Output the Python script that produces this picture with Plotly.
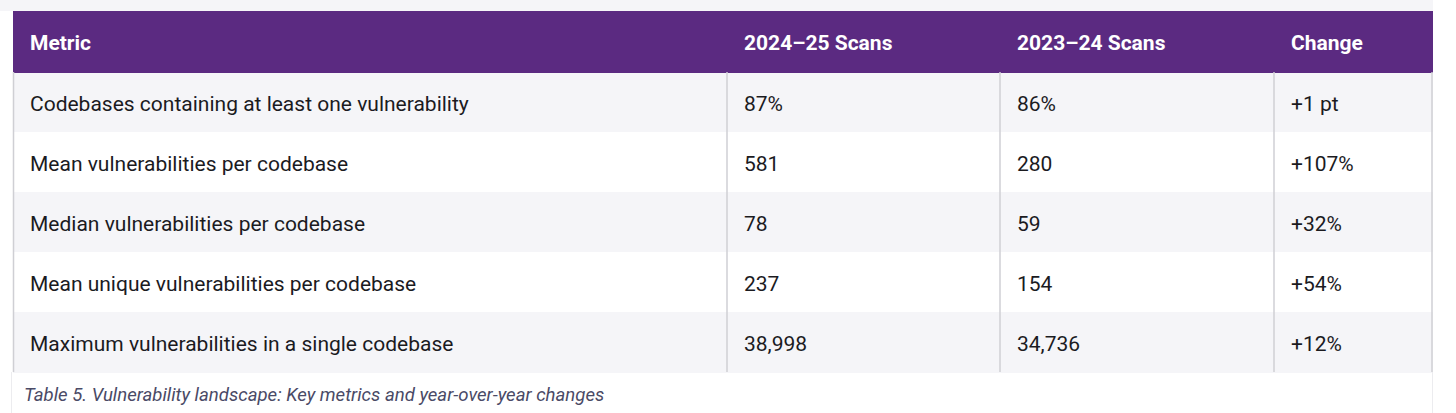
import plotly.graph_objects as go

W, H = 1456, 413

headers = ["Metric", "2024\u201325 Scans", "2023\u201324 Scans", "Change"]
metrics = [
    "Codebases containing at least one vulnerability",
    "Mean vulnerabilities per codebase",
    "Median vulnerabilities per codebase",
    "Mean unique vulnerabilities per codebase",
    "Maximum vulnerabilities in a single codebase",
]
scans_2024_25 = ["87%", "581", "78", "237", "38,998"]
scans_2023_24 = ["86%", "280", "59", "154", "34,736"]
change = ["+1 pt", "+107%", "+32%", "+54%", "+12%"]
caption = "Table 5. Vulnerability landscape: Key metrics and year-over-year changes"

PURPLE = "#5b2a81"
ROW_A = "#f5f5f8"
ROW_B = "#ffffff"
GRID = "#cfcfd4"
TEXT = "#1b1b1f"
CLEAR = "rgba(0,0,0,0)"

# pixel layout
x0, x1 = 13, 1432
col_px = [714, 273, 274, 158]
top, header_h, row_h = 11, 61, 60
n = len(metrics)
bottom = top + header_h + n * row_h
text_dx, text_dy = 9, 12      # inner padding of the text layer
text_header_h = 64
FS = 21

def px(x):
    return x / W

def py(y):
    return 1 - y / H

row_colors = [ROW_A if i % 2 == 0 else ROW_B for i in range(n)]
fill2d = [row_colors for _ in headers]
columns = [metrics, scans_2024_25, scans_2023_24, change]

# layer 1: cell backgrounds
fill_table = go.Table(
    domain=dict(x=[px(x0), px(x1)], y=[py(bottom + 2), py(top)]),
    columnwidth=col_px,
    header=dict(values=["" for _ in headers], fill_color=PURPLE,
                line=dict(color=PURPLE, width=1), height=header_h),
    cells=dict(values=[["" for _ in col] for col in columns],
               fill_color=fill2d, line=dict(color=fill2d, width=1),
               height=row_h),
)

# layer 2: text
text_table = go.Table(
    domain=dict(x=[px(x0 + text_dx), px(x1 + text_dx)],
                y=[py(bottom + text_dy + 10), py(top + text_dy)]),
    columnwidth=col_px,
    header=dict(
        values=[f"<b>{h}</b>" for h in headers],
        fill_color=CLEAR, line=dict(color=CLEAR, width=0),
        font=dict(family="Roboto", size=FS, color="white"),
        align="left", height=text_header_h,
    ),
    cells=dict(
        values=columns,
        fill_color=CLEAR, line=dict(color=CLEAR, width=0),
        font=dict(family="Roboto", size=FS, color=TEXT),
        align="left", height=row_h,
    ),
)

fig = go.Figure([fill_table, text_table])

shapes = []
shapes.append(dict(type="rect", xref="paper", yref="paper",
                   x0=0, x1=px(x1 + 1), y0=py(top), y1=1,
                   fillcolor=ROW_A, line=dict(width=0), layer="below"))
for xx in (11.5, x1 + 0.5):
    shapes.append(dict(type="line", xref="paper", yref="paper",
                       x0=px(xx), x1=px(xx), y0=py(bottom), y1=0,
                       line=dict(color="#ececef", width=1)))
edges = [x0 + 0.5]
acc = x0
for w in col_px:
    acc += w
    edges.append(acc)
for xx in edges:
    shapes.append(dict(type="line", xref="paper", yref="paper",
                       x0=px(xx), x1=px(xx), y0=py(bottom), y1=py(top + header_h),
                       line=dict(color=GRID, width=1.5)))

fig.update_layout(
    width=W, height=H,
    margin=dict(l=0, r=0, t=0, b=0),
    paper_bgcolor="white",
    plot_bgcolor="white",
    shapes=shapes,
    annotations=[dict(
        text=f"<i>{caption}</i>", xref="paper", yref="paper",
        x=px(22), y=py(395), xanchor="left", yanchor="middle",
        showarrow=False, font=dict(family="Roboto", size=18.6, color="#4a4a66"),
    )],
)

fig.write_html("out.html", config={"displayModeBar": False},
               post_script="document.body.style.margin='0px';")
